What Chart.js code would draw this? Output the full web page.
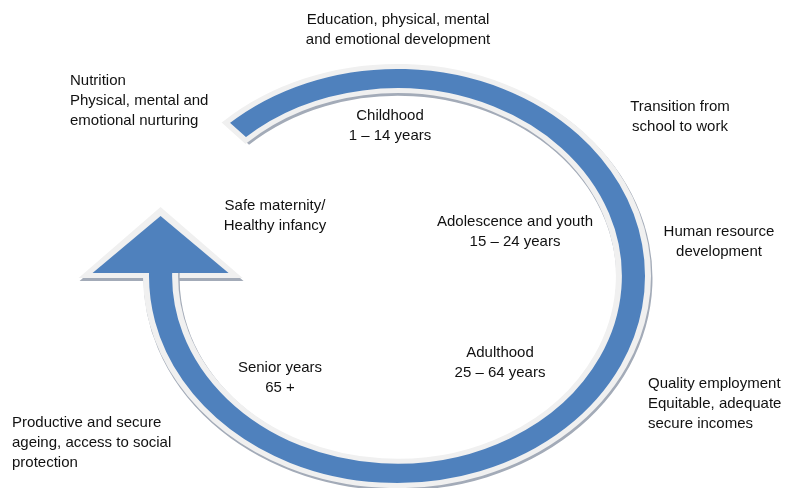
<!DOCTYPE html>
<html lang="en">
<head>
<meta charset="UTF-8">
<title>Life cycle</title>
<script src="https://cdn.jsdelivr.net/npm/chart.js"></script>
<style>
  html, body { margin: 0; padding: 0; background: #fff; }
</style>
</head>
<body>
<canvas id="cycleChart" width="785" height="488"></canvas>
<script>
// life stages, written inside the ring
const stageNames = ['Safe maternity/', 'Childhood', 'Adolescence and youth', 'Adulthood', 'Senior years'];
const stageAges = ['Healthy infancy', '1 – 14 years', '15 – 24 years', '25 – 64 years', '65 +'];

// needs at each stage, written round the outside
const needs = [
  ['Nutrition', 'Physical, mental and', 'emotional nurturing'],
  ['Education, physical, mental', 'and emotional development'],
  ['Transition from', 'school to work'],
  ['Human resource', 'development'],
  ['Quality employment', 'Equitable, adequate', 'secure incomes'],
  ['Productive and secure', 'ageing, access to social', 'protection']
];

// the ring is one unbroken band
const ringValues = [1];
const ringStart = -43;   // degrees from top
const ringSweep = 317;   // degrees

// where the text goes (x, y of first line, alignment)
const stagePos = [[275, 206], [390, 116], [515, 222], [500, 353], [280, 368]];
const needPos = [[70, 81, 'left'], [398, 20, 'center'], [680, 107, 'center'],
                 [719, 232, 'center'], [648, 384, 'left'], [12, 423, 'left']];

const blue = '#4f81bd';
const rim = '#f0f0f0';
const shade = '#a3abb8';
const squash = 0.835;
const font = '15px "Liberation Sans", Arial, sans-serif';

function arrowPoints(arc, grow) {
  const stemX = arc.x - (arc.innerRadius + arc.outerRadius) / 2;
  const baseY = arc.y - 3;
  return [
    [stemX, baseY - 57 - grow * 1.8],
    [stemX - 68 - grow * 2.8, baseY + grow],
    [stemX + 68 + grow * 2.8, baseY + grow]
  ];
}

function fillPoly(ctx, pts, color) {
  ctx.beginPath();
  ctx.moveTo(pts[0][0], pts[0][1]);
  for (let i = 1; i < pts.length; i++) ctx.lineTo(pts[i][0], pts[i][1]);
  ctx.closePath();
  ctx.fillStyle = color;
  ctx.fill();
}

const cyclePlugin = {
  id: 'cycle',
  beforeDatasetsDraw(chart) {
    const ctx = chart.ctx;
    const arc = chart.getDatasetMeta(0).data[0];
    // back of the arrow head: shadow then light rim
    fillPoly(ctx, arrowPoints(arc, 5).map(p => [p[0] + 1, p[1] + 3]), shade);
    fillPoly(ctx, arrowPoints(arc, 5), rim);

    // squash the round doughnut into an ellipse
    ctx.save();
    ctx.translate(arc.x, arc.y);
    ctx.scale(1, squash);
    ctx.translate(-arc.x, -arc.y);

    // thin shadow under the ring
    ctx.save();
    ctx.translate(1, 2.5);
    ctx.beginPath();
    ctx.arc(arc.x, arc.y, arc.outerRadius + 3.5, arc.startAngle, arc.endAngle);
    ctx.arc(arc.x, arc.y, arc.innerRadius - 3.5, arc.endAngle, arc.startAngle, true);
    ctx.closePath();
    ctx.fillStyle = shade;
    ctx.fill();
    ctx.restore();
  },
  afterDatasetsDraw(chart) {
    const ctx = chart.ctx;
    ctx.restore();
    const arc = chart.getDatasetMeta(0).data[0];
    fillPoly(ctx, arrowPoints(arc, 0), blue);

    ctx.save();
    ctx.font = font;
    ctx.fillStyle = '#111';
    ctx.textBaseline = 'middle';
    stageNames.forEach((name, i) => {
      ctx.textAlign = 'center';
      ctx.fillText(name, stagePos[i][0], stagePos[i][1]);
      ctx.fillText(stageAges[i], stagePos[i][0], stagePos[i][1] + 20);
    });
    needs.forEach((lines, i) => {
      ctx.textAlign = needPos[i][2];
      lines.forEach((line, j) => ctx.fillText(line, needPos[i][0], needPos[i][1] + j * 20));
    });
    ctx.restore();
  }
};

const ctx = document.getElementById('cycleChart').getContext('2d');
new Chart(ctx, {
  type: 'doughnut',
  data: {
    labels: ['Life cycle'],
    datasets: [{
      data: ringValues,
      backgroundColor: blue,
      borderColor: rim,
      borderWidth: 6,
      borderJoinStyle: 'miter',
      rotation: ringStart,
      circumference: ringSweep,
      radius: 251,
      cutout: '88.4%',
      clip: false
    }]
  },
  options: {
    responsive: false,
    animation: false,
    events: [],
    layout: { padding: { left: 9, top: 64, right: 0, bottom: 0 } },
    plugins: {
      legend: { display: false },
      tooltip: { enabled: false }
    }
  },
  plugins: [cyclePlugin]
});
</script>
</body>
</html>
